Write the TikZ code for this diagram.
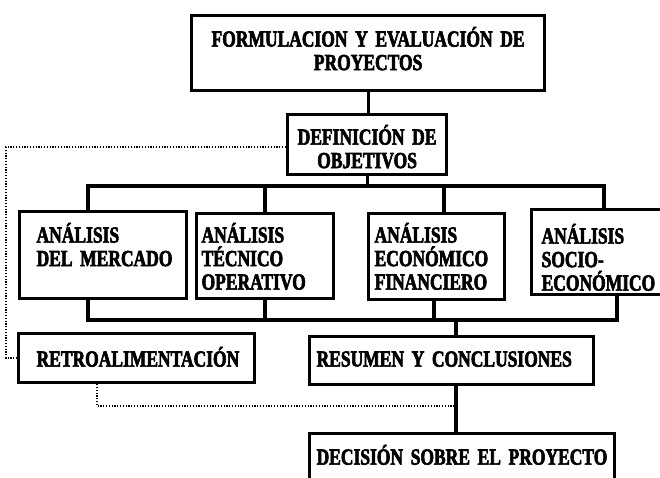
\documentclass[tikz,border=0pt]{standalone}
\usepackage{fontspec}
\newfontfamily\cajafont{Liberation Serif}[FakeStretch=0.76, FakeBold=2.6]
\usetikzlibrary{calc}
\hyphenpenalty=10000

\begin{document}
\begin{tikzpicture}[x=1pt, y=-1pt,
    caja/.style={draw, line width=3.2pt, anchor=north west, inner ysep=0pt, align=left,
      font=\cajafont\bfseries\fontsize{23}{23.5}\selectfont},
    linea/.style={line width=3.2pt},
    punteado/.style={line width=1.4pt, dash pattern=on 1.2pt off 1.6pt}]
    % Fondo
    \useasboundingbox[fill=white] (0,0) rectangle (660,478);
    % Cajas
    \node[caja, align=center, inner xsep=0pt, text width=353pt, text height=31pt, text depth=44pt]
        (forma) at (190,14) {FORMULACION Y EVALUACIÓN DE\\PROYECTOS};
    \node[caja, align=center, inner xsep=0pt, text width=159pt, text height=30pt, text depth=30pt]
        (defi) at (286,113) {DEFINICIÓN DE\\OBJETIVOS};
    \node[caja, inner xsep=17pt, text width=133pt, text height=31pt, text depth=56pt]
        (merc) at (18,210) {ANÁLISIS\\DEL~MERCADO};
    \node[caja, inner xsep=5pt, text width=127pt, text height=29pt, text depth=56pt]
        (tecn) at (195,212) {ANÁLISIS\\TÉCNICO\\OPERATIVO};
    \node[caja, inner xsep=6pt, text width=124pt, text height=29pt, text depth=57pt]
        (econ) at (367,212) {ANÁLISIS\\ECONÓMICO\\FINANCIERO};
    \node[caja, inner xsep=10pt, text width=150pt, text height=34pt, text depth=51pt]
        (soci) at (530,208) {ANÁLISIS\\SOCIO-\\ECONÓMICO};
    \node[caja, inner xsep=18pt, text width=200pt, text height=33pt, text depth=16pt]
        (retro) at (17,332) {RETROALIMENTACIÓN};
    \node[caja, inner xsep=7pt, text width=270pt, text height=30pt, text depth=18pt]
        (resu) at (308,335) {RESUMEN~Y~CONCLUSIONES};
    \node[caja, inner xsep=7pt, text width=291pt, text height=31pt, text depth=47pt]
        (deci) at (308,432) {DECISIÓN~SOBRE~EL~PROYECTO};
    % Puntos de las barras
    \coordinate (a1) at (88,186);
    \coordinate (a2) at (265,186);
    \coordinate (a3) at (444,186);
    \coordinate (a4) at (604,186);
    \coordinate (b1) at (88,320);
    \coordinate (b2) at (265,320);
    \coordinate (b3) at (434,320);
    \coordinate (b4) at (617,320);
    \coordinate (b5) at (456,320);
    \coordinate (d1) at (6,147);
    \coordinate (d2) at (97,406);
    % Conectores
    \draw[linea] (forma.south) -- (forma.south |- defi.north);
    \draw[linea] (defi.south) -- (defi.south |- a1);
    \draw[linea] (a1 |- merc.north) -- (a1) -- (a4) -- (a4 |- soci.north);
    \draw[linea] (b1 |- merc.south) -- (b1) -- (b4) -- (b4 |- soci.south);
    \foreach \p/\n in {a2/tecn, a3/econ} {
        \draw[linea] (\p) -- (\p |- \n.north);
    }
    \foreach \p/\n in {b2/tecn, b3/econ} {
        \draw[linea] (\p) -- (\p |- \n.south);
    }
    \draw[linea] (b5) -- (b5 |- resu.north);
    \draw[linea] (b5 |- resu.south) -- (b5 |- deci.north);
    % Retroalimentacion
    \draw[punteado] (d1 -| defi.west) -- (d1) -- (d1 |- retro.west) -- (retro.west);
    \draw[punteado] (d2 |- retro.south) -- (d2) -- (d2 -| b5);
\end{tikzpicture}
\end{document}
